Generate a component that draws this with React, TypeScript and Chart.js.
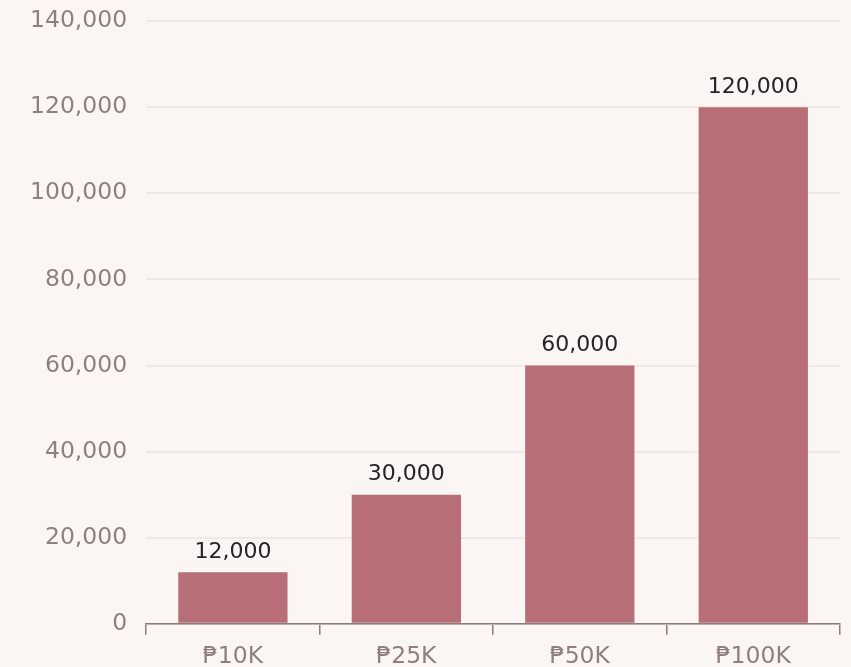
import React, { useEffect, useRef } from "react";
import { Chart, registerables } from "chart.js";

Chart.register(...registerables);

const categories = ["₱10K", "₱25K", "₱50K", "₱100K"];
const values = [12000, 30000, 60000, 120000];
const yTicks = [0, 20000, 40000, 60000, 80000, 100000, 120000, 140000];

const FONT = "'DejaVu Sans', sans-serif";

const valueLabels = {
  id: "valueLabels",
  afterDatasetsDraw(chart: any) {
    const ctx = chart.ctx;
    const meta = chart.getDatasetMeta(0);
    ctx.save();
    ctx.font = `22px ${FONT}`;
    ctx.fillStyle = "#2a2224";
    ctx.textAlign = "center";
    ctx.textBaseline = "bottom";
    meta.data.forEach((bar: any, i: number) => {
      const v = chart.data.datasets[0].data[i] as number;
      ctx.fillText(v.toLocaleString("en-US"), bar.x, bar.y - 9);
    });
    ctx.restore();
  },
};

export default function App() {
  const ref = useRef<HTMLCanvasElement | null>(null);
  useEffect(() => {
    if (!ref.current) return;
    const chart = new Chart(ref.current, {
      type: "bar",
      data: {
        labels: categories,
        datasets: [
          {
            data: values,
            backgroundColor: "#b76e76",
            barPercentage: 0.7,
            categoryPercentage: 0.9,
          },
        ],
      },
      options: {
        animation: false,
        responsive: true,
        maintainAspectRatio: false,
        layout: { padding: { top: 0, right: 11, left: 11, bottom: 0 } },
        plugins: { legend: { display: false }, tooltip: { enabled: false } },
        scales: {
          x: {
            grid: {
              display: true,
              drawOnChartArea: false,
              drawTicks: true,
              tickLength: 11,
              color: "#8c7b7d",
              lineWidth: 1.5,
            },
            border: { display: true, color: "#8c7b7d", width: 1.5 },
            ticks: {
              color: "#8f7f81",
              font: { family: FONT, size: 23.5 },
              padding: 8,
            },
          },
          y: {
            min: 0,
            max: 140000,
            afterBuildTicks: (axis: any) => {
              axis.ticks = yTicks.map((v) => ({ value: v }));
            },
            grid: {
              color: "#f1e7e3",
              lineWidth: 2,
              drawTicks: false,
            },
            border: { display: false },
            ticks: {
              color: "#8f7f81",
              font: { family: FONT, size: 23.5 },
              padding: 19,
              callback: (v: any) => Number(v).toLocaleString("en-US"),
            },
          },
        },
      },
      plugins: [valueLabels],
    });
    return () => chart.destroy();
  }, []);
  return (
    <div
      style={{
        position: "fixed",
        left: 0,
        top: -12,
        width: 851,
        height: 691,
        background: "#fbf6f3",
      }}
    >
      <canvas ref={ref} />
    </div>
  );
}
